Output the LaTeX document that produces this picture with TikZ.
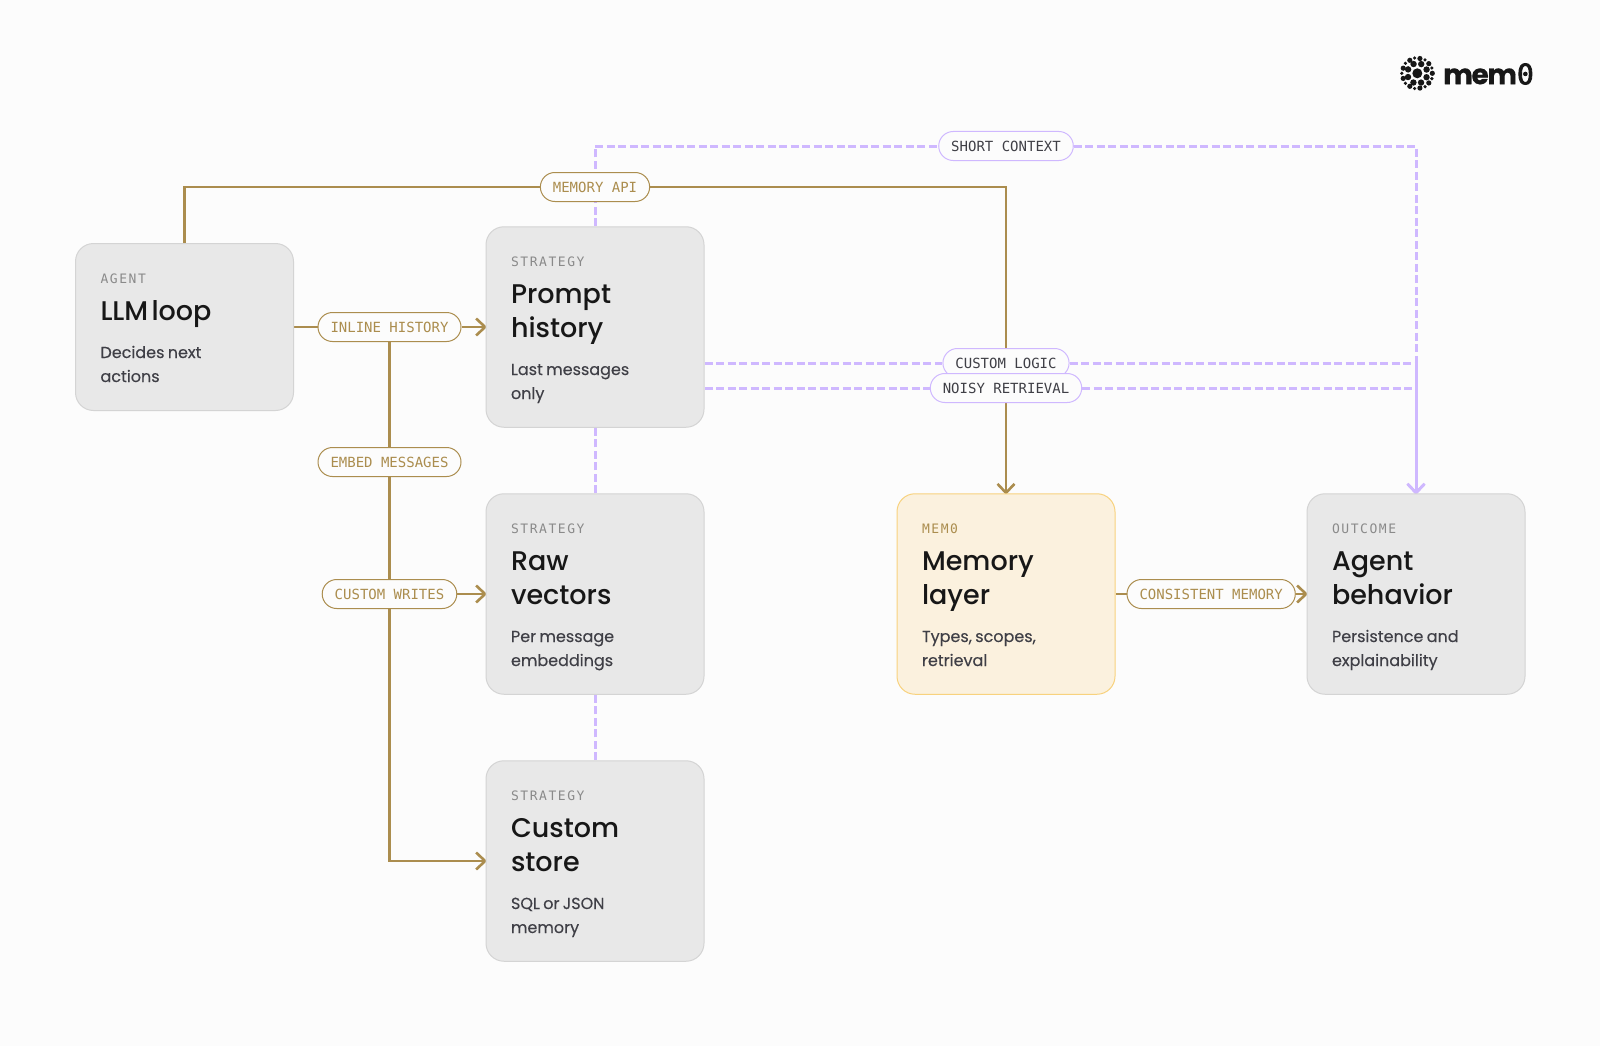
\documentclass[tikz,border=0pt]{standalone}
\usepackage{fontspec}
\usetikzlibrary{positioning,arrows.meta,backgrounds}
\setmainfont{Poppins}
\newfontfamily\titlefont[WordSpace=2.5]{Poppins Medium}
\newfontfamily\bodyfont[FakeBold=0.2]{Poppins}
\newfontfamily\logofont[LetterSpace=-5,FakeBold=0.5]{Poppins Bold}
\newfontfamily\kickfont[LetterSpace=12]{DejaVu Sans Mono}
\newfontfamily\pillfont{DejaVu Sans Mono}
\newfontfamily\zerofont[FakeBold=3]{DejaVu Sans Mono}
\definecolor{pagec}{HTML}{FCFCFC}
\definecolor{cardc}{HTML}{E8E8E8}
\definecolor{edgec}{HTML}{D4D4D4}
\definecolor{memc}{HTML}{FBF1DE}
\definecolor{memedge}{HTML}{F8D27E}
\definecolor{goldc}{HTML}{AB8D4E}
\definecolor{violetc}{HTML}{CFB8FF}
\definecolor{titlec}{HTML}{171717}
\definecolor{subc}{HTML}{3F3F46}
\definecolor{kickc}{HTML}{8A8A8A}
\newcommand{\cardtext}[4][kickc]{%
  {\kickfont\fontsize{13}{16}\selectfont\color{#1}\rule{0pt}{17pt}#2\par}\vspace{3.5pt}
  {\titlefont\fontsize{27}{34}\selectfont\color{titlec}#3\par}\vspace{13.5pt}
  {\bodyfont\fontsize{16}{24}\selectfont\color{subc}#4\rule[-6pt]{0pt}{1pt}\par}}
\tikzset{
  card/.style={draw=edgec, fill=cardc, line width=1pt, rounded corners=18pt,
    minimum width=218pt, text width=168pt, inner sep=0pt, align=left},
  memcard/.style={card, draw=memedge, fill=memc},
  gold/.style={draw=goldc, line width=2.6pt},
  goldtip/.style={gold, shorten >=-1.5pt, -{Straight Barb[length=9pt,width=17pt,line width=2.6pt]}},
  violet/.style={draw=violetc, line width=3pt, dash pattern=on 8pt off 3.5pt},
  violettip/.style={violet, shorten >=-1.5pt, -{Straight Barb[length=9pt,width=17pt,line width=2.6pt]}},
  pill/.style={draw=goldc, fill=pagec, line width=1pt, rounded corners=14.5pt,
    minimum height=29pt, inner xsep=12.5pt, inner ysep=0pt, text=goldc,
    font=\pillfont\fontsize{14}{16}\selectfont},
  vpill/.style={pill, draw=violetc, text=subc}
}
\begin{document}
\begin{tikzpicture}[x=1pt,y=1pt]
  \useasboundingbox (0,0) rectangle (1600,-1046);

  \node [card, minimum height=167pt] (a1) at (184.5,-327)
    {\cardtext{AGENT}{LLM loop}{Decides next\\actions}\vspace{1.5pt}};
  \node [card, minimum height=200.5pt, right=191.5pt of a1] (s1)
    {\cardtext{STRATEGY}{Prompt\\history}{Last messages\\only}};
  \node [card, minimum height=200.5pt, below=65.5pt of s1] (s2)
    {\cardtext{STRATEGY}{Raw\\vectors}{Per message\\embeddings}};
  \node [card, minimum height=200.5pt, below=65.5pt of s2] (s3)
    {\cardtext{STRATEGY}{Custom\\store}{SQL or JSON\\memory}};
  \node [memcard, minimum height=200.5pt, right=192pt of s2] (m1)
    {\cardtext[goldc]{MEM0}{Memory\\layer}{Types, scopes,\\retrieval}};
  \node [card, minimum height=200.5pt, right=191pt of m1] (o1)
    {\cardtext{OUTCOME}{Agent\\behavior}{Persistence and\\explainability}};

  \node [vpill] (v1) at (m1.center |- 0,-146) {SHORT CONTEXT};
  \node [vpill] (v2) at (m1.center |- 0,-363) {CUSTOM LOGIC};
  \node [vpill] (v3) at (m1.center |- 0,-388) {NOISY RETRIEVAL};

  \node [pill] (l0) at (s1.center |- 0,-187) {MEMORY API};
  \node [pill, left=24pt of s1] (l1) {INLINE HISTORY};
  \node [pill, below=105pt of l1] (l2) {EMBED MESSAGES};
  \node [pill] (l3) at (l1 |- s2) {CUSTOM WRITES};
  \node [pill, right=11pt of m1] (l4) {CONSISTENT MEMORY};
  \coordinate (t2) at (o1.north |- v2);
  \coordinate (t3) at (o1.north |- v3);

  \node [inner sep=0pt, anchor=west, text=titlec, font=\logofont\fontsize{28}{34}\selectfont] (p1) at (1443,-74)
    {mem{\zerofont 0}};
  \coordinate (p0) at (1417.3,-73.3);
  \fill [titlec] (p0) circle (5pt);
  \foreach \a in {0,45,...,315} \fill [titlec] (p0) ++(\a+22:10) circle (3.2pt);
  \foreach \a in {0,40,...,320} \fill [titlec] (p0) ++(\a:15) circle (2.6pt);
  \foreach \a in {20,60,...,340} \fill [titlec] (p0) ++(\a:15.5) circle (1.8pt);

  \begin{scope}[on background layer]
    \fill [pagec] (0,0) rectangle (1600,-1046);
    \draw [violet] (s3.north) -- (s2.south);
    \draw [violet] (s2.north) -- (s1.south);
    \draw [violet] (s1.north) |- (v1);
    \draw [violettip] (v1) -| (o1.north);
    \draw [violet] (s1.east |- v2) -- (v2);
    \draw [violet] (s1.east |- v3) -- (v3);
    \draw [violettip] (v2) -- (t2) -- (o1.north);
    \draw [violettip] (v3) -- (t3) -- (o1.north);

    \draw [gold] (a1.north) |- (l0);
    \draw [goldtip] (l0) -| (m1.north);
    \draw [gold] (a1.east) -- (l1);
    \draw [goldtip] (l1) -- (s1);
    \draw [gold] (l1) -- (l2);
    \draw [gold] (l2) -- (l3);
    \draw [goldtip] (l3) -- (s2);
    \draw [goldtip] (l3) |- (s3.west);
    \draw [gold] (m1) -- (l4);
    \draw [goldtip] (l4) -- (o1);
  \end{scope}
\end{tikzpicture}
\end{document}
